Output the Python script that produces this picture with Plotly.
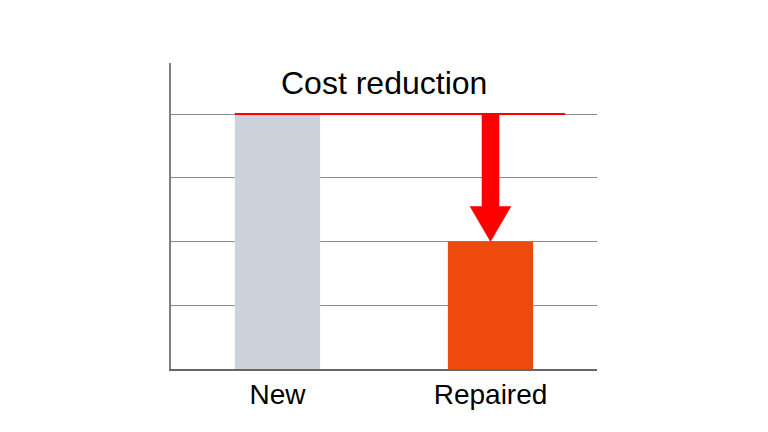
import plotly.graph_objects as go

# ---- data ----
categories = ["New", "Repaired"]
costs = [4, 2]
bar_colors = ["#CBD2D9", "#EE4A0D"]
title_text = "Cost reduction"

x_pos = list(range(len(categories)))
new_cost, repaired_cost = costs[0], costs[1]

fig = go.Figure()

# bars
fig.add_trace(go.Bar(
    x=x_pos, y=costs, width=0.4,
    marker=dict(color=bar_colors, line=dict(width=0)),
    hoverinfo="skip",
))

# red reference line at the "New" cost level
fig.add_trace(go.Scatter(
    x=[x_pos[0] - 0.2, x_pos[1] + 0.35], y=[new_cost, new_cost],
    mode="lines", line=dict(color="#FF0000", width=2), hoverinfo="skip",
))

# arrow from New cost down to Repaired cost (drawn in data coordinates)
ax = x_pos[1]
shaft_hw = 0.04
head_hw = 0.096
head_len = 0.55
head_base = repaired_cost + head_len
arrow_x = [ax - shaft_hw, ax + shaft_hw, ax + shaft_hw, ax + head_hw, ax,
           ax - head_hw, ax - shaft_hw, ax - shaft_hw]
arrow_y = [new_cost, new_cost, head_base, head_base, repaired_cost,
           head_base, head_base, new_cost]
fig.add_trace(go.Scatter(
    x=arrow_x, y=arrow_y, mode="lines", fill="toself",
    fillcolor="#FF0000", line=dict(color="#FF0000", width=0.5),
    hoverinfo="skip",
))

fig.add_annotation(
    text=title_text, xref="paper", yref="paper", x=0.5, y=0.935,
    xanchor="center", yanchor="middle", showarrow=False,
    font=dict(family="Liberation Sans, Arial, sans-serif", size=32, color="#000000"),
)

fig.update_layout(
    width=768, height=432,
    margin=dict(l=171, r=171, t=63, b=63),
    paper_bgcolor="white", plot_bgcolor="white",
    showlegend=False,
    font=dict(family="Liberation Sans, Arial, sans-serif", color="#000000"),
)
fig.update_xaxes(
    range=[-0.5, 1.5], tickvals=x_pos, ticktext=categories,
    showgrid=False, zeroline=False, showline=True, linecolor="#666666", linewidth=1.5,
    ticks="", tickfont=dict(size=28), ticklabelstandoff=0,
)
fig.update_yaxes(
    range=[0, 4.8], dtick=1, showticklabels=False,
    showgrid=True, gridcolor="#8A8A8A", gridwidth=1,
    zeroline=False, showline=True, linecolor="#808080", linewidth=1.5,
    ticks="",
)

fig.write_html("out.html", config={"displayModeBar": False},
               post_script="document.body.style.margin='0';")
